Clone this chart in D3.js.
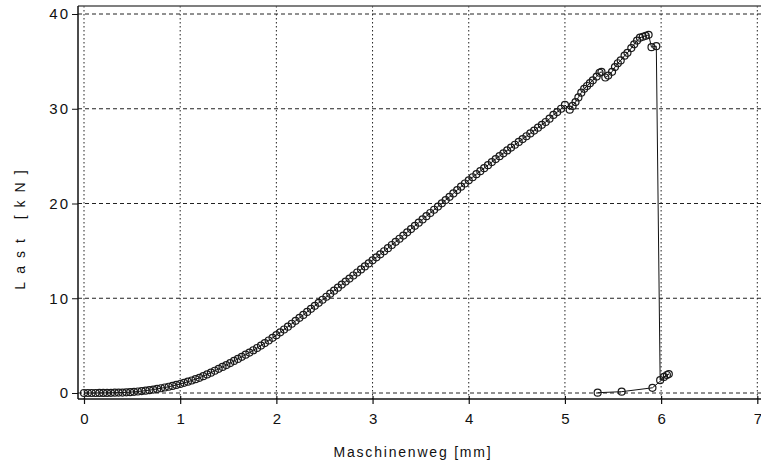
<!DOCTYPE html>
<html><head><meta charset="utf-8">
<script src="https://cdn.jsdelivr.net/npm/d3@7"></script>
<style>
html,body{margin:0;padding:0;background:#fff;}
svg{display:block;}
text{font-family:"Liberation Sans",Arial,sans-serif;fill:#111;}
</style></head>
<body><svg id="c" width="761" height="469"></svg>
<script>
// Maschinenweg [mm]
const weg = [0.00,0.04,0.08,0.12,0.16,0.20,0.24,0.28,0.32,0.36,0.40,0.44,0.48,0.52,0.56,0.60,0.64,0.68,0.72,0.76,
0.80,0.84,0.88,0.92,0.96,1.00,1.04,1.08,1.12,1.16,1.20,1.24,1.28,1.32,1.36,1.40,1.44,1.48,1.52,1.56,
1.60,1.64,1.68,1.72,1.76,1.80,1.84,1.88,1.92,1.96,2.00,2.04,2.08,2.12,2.16,2.20,2.24,2.28,2.32,2.36,
2.40,2.44,2.48,2.52,2.56,2.60,2.64,2.68,2.72,2.76,2.80,2.84,2.88,2.92,2.96,3.00,3.04,3.08,3.12,3.16,
3.20,3.24,3.28,3.32,3.36,3.40,3.44,3.48,3.52,3.56,3.60,3.64,3.68,3.72,3.76,3.80,3.84,3.88,3.92,3.96,
4.00,4.04,4.08,4.12,4.16,4.20,4.24,4.28,4.32,4.36,4.40,4.44,4.48,4.52,4.56,4.60,4.64,4.68,4.72,4.76,
4.80,4.84,4.88,4.92,4.96,5.00,5.05,5.08,5.11,5.14,5.17,5.20,5.23,5.26,5.29,5.33,5.36,5.38,5.42,5.45,
5.49,5.52,5.55,5.58,5.62,5.65,5.69,5.72,5.75,5.78,5.81,5.84,5.87,5.90,5.95,5.99,6.03,6.06,6.08,5.91,
5.59,5.34];
// Last [kN]
const last = [0.00,0.00,0.00,0.00,0.01,0.01,0.01,0.02,0.03,0.04,0.05,0.07,0.09,0.12,0.16,0.20,0.25,0.30,0.36,0.43,
0.50,0.58,0.66,0.75,0.85,0.95,1.07,1.19,1.32,1.46,1.60,1.78,1.96,2.15,2.35,2.55,2.75,2.95,3.16,3.38,
3.60,3.82,4.04,4.27,4.51,4.75,5.01,5.27,5.54,5.82,6.10,6.40,6.70,7.00,7.31,7.62,7.93,8.24,8.56,8.88,
9.20,9.52,9.84,10.16,10.48,10.80,11.12,11.44,11.76,12.08,12.40,12.72,13.04,13.36,13.68,14.00,14.32,14.64,14.96,15.29,
15.62,15.95,16.28,16.62,16.96,17.30,17.64,17.98,18.32,18.66,19.00,19.34,19.68,20.02,20.36,20.70,21.06,21.42,21.78,22.11,
22.45,22.77,23.09,23.41,23.73,24.05,24.37,24.69,25.00,25.30,25.60,25.90,26.20,26.50,26.80,27.10,27.40,27.70,28.00,28.30,
28.60,28.95,29.35,29.65,30.00,30.40,29.90,30.30,30.70,31.20,31.70,32.10,32.40,32.70,33.00,33.40,33.80,33.90,33.30,33.50,
33.90,34.40,34.80,35.10,35.60,35.90,36.40,36.80,37.20,37.50,37.60,37.70,37.80,36.50,36.60,1.35,1.70,1.90,2.00,0.55,
0.14,0.03];
const xTicks = [0,1,2,3,4,5,6,7];
const yTicks = [0,10,20,30,40];
const xTitle = "Maschinenweg [mm]";
const yTitle = "Last [kN]";

const data = weg.map((w,i)=>({x:w,y:last[i]}));
const svg = d3.select("#c");
const x = d3.scaleLinear().domain([0,7]).range([84,757.3]);
const y = d3.scaleLinear().domain([0,40]).range([393,14]);
const L=78, T=6, B=399, R=770;

// grid
svg.append("g").selectAll("line").data(yTicks).join("line")
  .attr("x1",L).attr("x2",R).attr("y1",d=>y(d)).attr("y2",d=>y(d))
  .attr("stroke","#222").attr("stroke-width",1).attr("stroke-dasharray","4,3");
svg.append("g").selectAll("line").data(xTicks).join("line")
  .attr("x1",d=>x(d)).attr("x2",d=>x(d)).attr("y1",T).attr("y2",B)
  .attr("stroke","#222").attr("stroke-width",1).attr("stroke-dasharray","1.5,2.5");

// frame
svg.append("line").attr("x1",L).attr("x2",R).attr("y1",T).attr("y2",T).attr("stroke","#555").attr("stroke-width",1.5);
svg.append("line").attr("x1",L).attr("x2",L).attr("y1",T).attr("y2",B).attr("stroke","#111").attr("stroke-width",1.5);

// axes
const xAxis = d3.axisBottom(x).tickValues(xTicks).tickSize(5).tickFormat(d3.format("d"));
const gx = svg.append("g").attr("transform",`translate(0,${B})`).call(xAxis);
gx.select(".domain").attr("d",`M${L},0H${R}`).attr("stroke","#111").attr("stroke-width",1.5);
gx.selectAll(".tick line").attr("stroke","#111").attr("y1",-3).attr("stroke-width",1.2);
gx.selectAll("text").attr("font-size",15).attr("dy","1.1em").attr("fill","#111");

const yAxis = d3.axisLeft(y).tickValues(yTicks).tickSize(6).tickPadding(2);
const gy = svg.append("g").attr("transform",`translate(${L},0)`).call(yAxis);
gy.select(".domain").remove();
gy.selectAll(".tick line").attr("stroke","#111");
gy.selectAll("text").attr("font-size",15).attr("letter-spacing","2px").attr("fill","#111");

// line + markers
svg.append("path").datum(data)
  .attr("d",d3.line().x(d=>x(d.x)).y(d=>y(d.y)))
  .attr("fill","none").attr("stroke","#111").attr("stroke-width",1);
svg.append("g").selectAll("circle").data(data).join("circle")
  .attr("cx",d=>x(d.x)).attr("cy",d=>y(d.y)).attr("r",3.5)
  .attr("fill","none").attr("stroke","#1a1a1a").attr("stroke-width",1.2);

// titles
svg.append("text").attr("x",413).attr("y",457).attr("text-anchor","middle")
  .attr("font-size",14).attr("letter-spacing","1.8px").text(xTitle);
svg.append("text").attr("transform","translate(25,226) rotate(-90)").attr("text-anchor","middle")
  .attr("font-size",14).attr("letter-spacing","8px").text(yTitle);
</script></body></html>
